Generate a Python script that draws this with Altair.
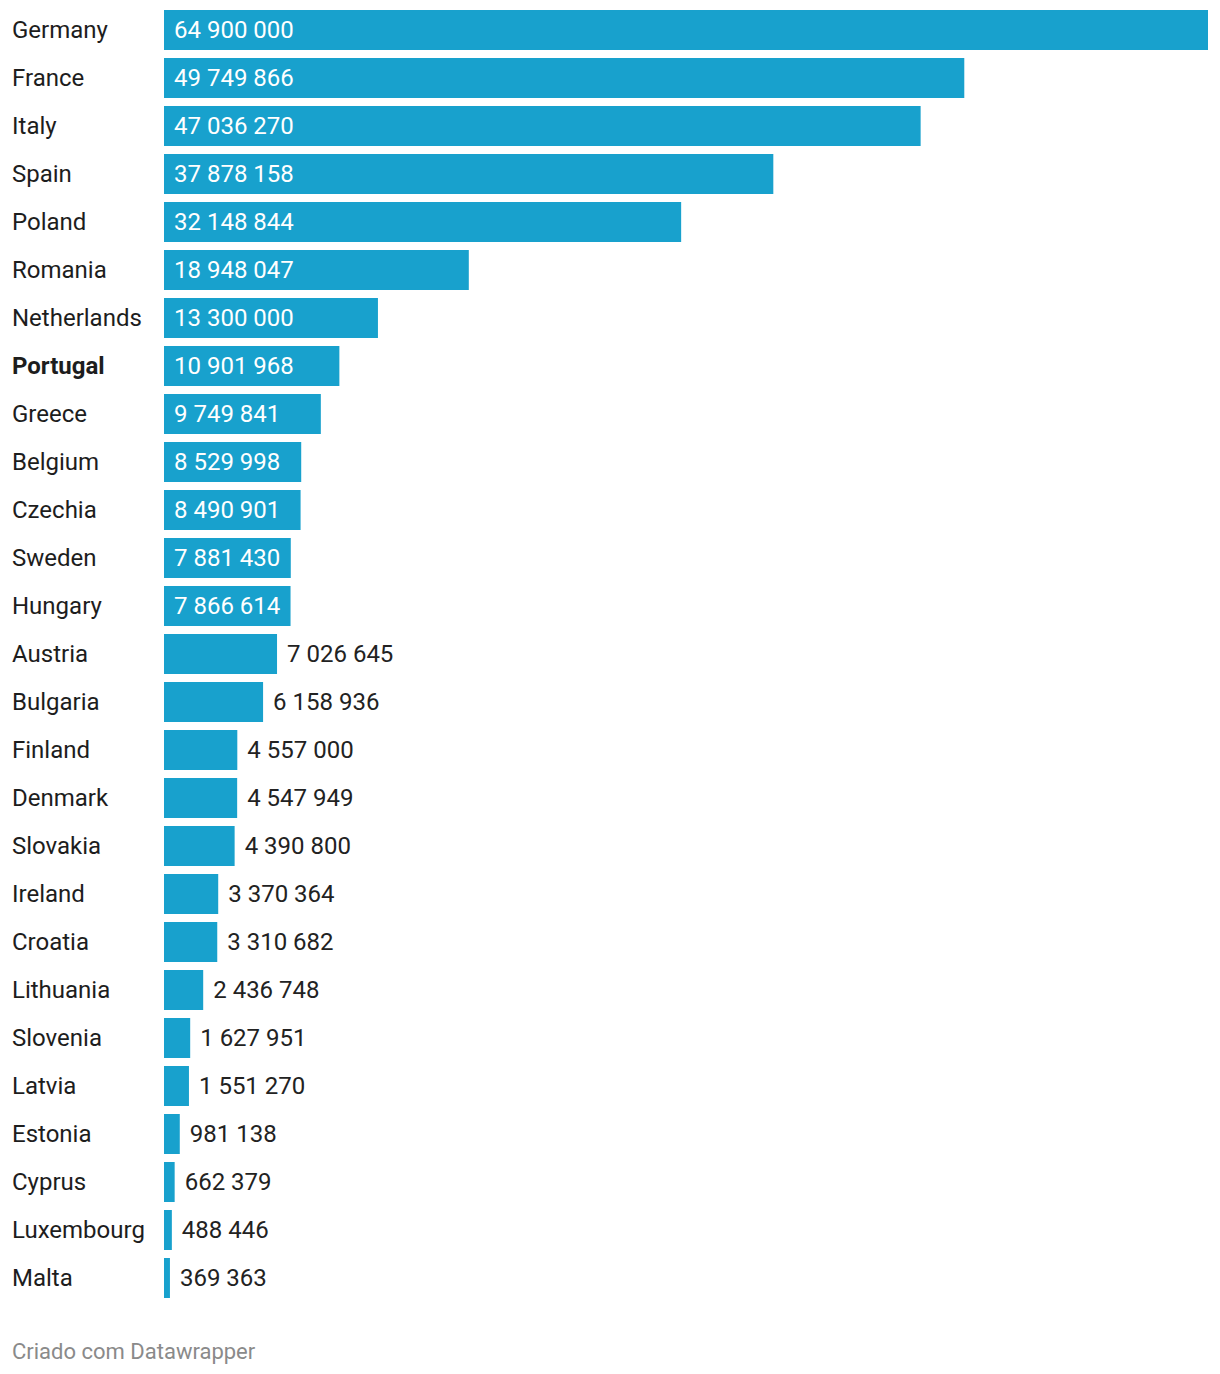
import altair as alt
import pandas as pd

countries = ["Germany", "France", "Italy", "Spain", "Poland", "Romania", "Netherlands",
             "Portugal", "Greece", "Belgium", "Czechia", "Sweden", "Hungary", "Austria",
             "Bulgaria", "Finland", "Denmark", "Slovakia", "Ireland", "Croatia", "Lithuania",
             "Slovenia", "Latvia", "Estonia", "Cyprus", "Luxembourg", "Malta"]
values = [64900000, 49749866, 47036270, 37878158, 32148844, 18948047, 13300000,
          10901968, 9749841, 8529998, 8490901, 7881430, 7866614, 7026645,
          6158936, 4557000, 4547949, 4390800, 3370364, 3310682, 2436748,
          1627951, 1551270, 981138, 662379, 488446, 369363]
footer = "Criado com Datawrapper"

labels = [f"{v:,}".replace(",", " ") for v in values]
df = pd.DataFrame({"country": countries, "value": values, "label": labels})

FONT = "Roboto"
ysc = alt.Scale(domain=countries, paddingInner=8 / 48, paddingOuter=2 / 48)
xsc = alt.Scale(domain=[0, 64900000], range=[0, 1044], nice=False, zero=True)

base = alt.Chart(df).encode(
    y=alt.Y("country:N", scale=ysc, axis=None, sort=countries)
)

bars = base.mark_bar(color="#18a1cd").encode(
    x=alt.X("value:Q", scale=xsc, axis=None)
)

inside = base.transform_filter("datum.value >= 7500000").mark_text(
    align="left", baseline="middle", dx=10, dy=1, font=FONT, fontSize=24, color="white"
).encode(x=alt.value(0), text="label:N")

outside = base.transform_filter("datum.value < 7500000").mark_text(
    align="left", baseline="middle", dx=10, dy=1, font=FONT, fontSize=24, color="#222222"
).encode(x=alt.X("value:Q", scale=xsc, axis=None), text="label:N")

names = base.transform_filter("datum.country != 'Portugal'").mark_text(
    align="left", baseline="middle", dy=1, font=FONT, fontSize=24, color="#1d1d1d"
).encode(x=alt.value(-152), text="country:N")

names_bold = base.transform_filter("datum.country == 'Portugal'").mark_text(
    align="left", baseline="middle", dy=1, font=FONT, fontSize=24, color="#1d1d1d",
    fontWeight="bold"
).encode(x=alt.value(-152), text="country:N")

foot = alt.Chart(pd.DataFrame({"t": [footer]})).mark_text(
    align="left", baseline="middle", font=FONT, fontSize=22, color="#8a8a8a"
).encode(x=alt.value(-152), y=alt.value(1344), text="t:N")

chart = alt.layer(bars, inside, outside, names, names_bold, foot).properties(
    width=1044, height=1292,
    autosize=alt.AutoSizeParams(type="none"),
    padding={"left": 156, "top": 0, "right": 4, "bottom": 70},
).configure_view(stroke=None)

chart.save("out.html", embed_options={"renderer": "svg", "actions": False})
